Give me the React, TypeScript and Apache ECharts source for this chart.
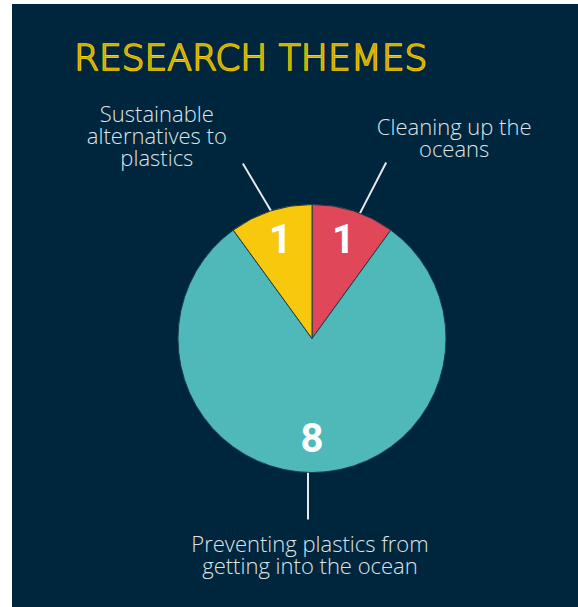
import React, { useEffect, useRef } from "react";
import * as echarts from "echarts";

// ---- data ----
const categories = [
  "Cleaning up the\noceans",
  "Preventing plastics from\ngetting into the ocean",
  "Sustainable\nalternatives to\nplastics",
];
const values = [1, 8, 1];
const sliceColors = ["#E0485A", "#4FB9BA", "#F8C80C"];
const titleText = "RESEARCH THEMES";

// ---- annotation layout (relative to library-computed label line points) ----
const labelOffsets = [
  [85, -26],
  [-2, 30],
  [-98, -28],
];
const lineStartNudges = [
  [5, 2],
  [-4, 4],
  [4, 2],
];
const lineEndNudges = [
  [17, 0],
  [-4, -4],
  [-12, 1],
];

const BG = "#00263D";

export default function App() {
  const ref = useRef<HTMLDivElement>(null);

  useEffect(() => {
    if (!ref.current) return;
    const chart = echarts.init(ref.current, undefined, { renderer: "svg" });
    const data = categories.map((name, i) => ({
      name,
      value: values[i],
      itemStyle: { color: sliceColors[i] },
    }));
    const transparentData = categories.map((name, i) => ({
      name,
      value: values[i],
    }));
    const center = [300, 334.5];
    chart.setOption({
      animation: false,
      backgroundColor: BG,
      title: {
        text: titleText,
        left: 62,
        top: 35,
        padding: 0,
        textStyle: {
          fontFamily: "DejaVu Sans",
          fontSize: 36,
          fontWeight: 200,
          color: "#C9A90A",
          textBorderColor: "#F9D005",
          textBorderWidth: 1.6,
        },
      },
      series: [
        {
          type: "pie",
          center,
          radius: 134,
          startAngle: 90,
          clockwise: true,
          silent: true,
          label: { show: false },
          labelLine: { show: false },
          itemStyle: { borderColor: "#1E3D4C", borderWidth: 1 },
          data,
        },
        {
          type: "pie",
          center,
          radius: [64, 134],
          startAngle: 90,
          clockwise: true,
          silent: true,
          itemStyle: { color: "rgba(0,0,0,0)", borderWidth: 0 },
          label: {
            show: true,
            position: "inside",
            formatter: "{c}",
            color: "#FFFFFF",
            fontFamily: "Roboto",
            fontWeight: "bold",
            fontSize: 40,
            offset: [0, -2],
          },
          labelLine: { show: false },
          data: transparentData,
        },
        {
          type: "pie",
          center,
          radius: 125,
          startAngle: 90,
          clockwise: true,
          silent: true,
          avoidLabelOverlap: false,
          itemStyle: { color: "rgba(0,0,0,0)", borderWidth: 0 },
          label: {
            show: true,
            position: "outside",
            formatter: "{b}",
            color: "#DDE4E8",
            fontFamily: "Open Sans",
            fontWeight: 300,
            fontSize: 22,
            lineHeight: 22,
            overflow: "none",
          },
          labelLine: {
            show: true,
            length: 60,
            length2: 0,
            lineStyle: { color: "#E6E9EB", width: 2 },
          },
          labelLayout: (params: any) => {
            const i = params.dataIndex;
            const pts = params.labelLinePoints;
            if (!pts) return {};
            const p0 = pts[0];
            const p1 = pts[1];
            const s = lineStartNudges[i];
            const e = lineEndNudges[i];
            const o = labelOffsets[i];
            return {
              x: p1[0] + o[0],
              y: p1[1] + o[1],
              align: "center",
              verticalAlign: "middle",
              labelLinePoints: [
                [p0[0] + s[0], p0[1] + s[1]],
                [p1[0] + e[0], p1[1] + e[1]],
              ],
            };
          },
          data: transparentData,
        },
      ],
    });
    return () => chart.dispose();
  }, []);

  return (
    <div
      ref={ref}
      style={{
        position: "fixed",
        left: 12,
        top: 4,
        width: 566,
        height: 603,
        background: BG,
      }}
    />
  );
}
